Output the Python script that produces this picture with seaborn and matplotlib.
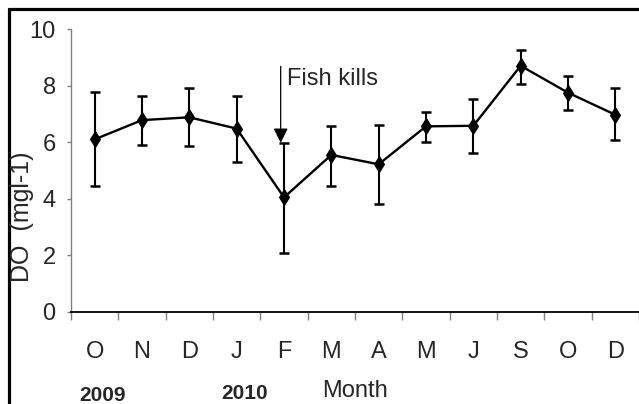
import matplotlib
matplotlib.use("Agg")
import matplotlib.pyplot as plt
from matplotlib.lines import Line2D
from matplotlib import font_manager
import numpy as np
import pandas as pd
import seaborn as sns

# Monthly dissolved oxygen, Oct 2009 - Dec 2010
months = ["O", "N", "D", "J", "F", "M", "A", "M", "J", "S", "O", "D"]
do_mean = [6.10, 6.78, 6.88, 6.48, 4.05, 5.55, 5.22, 6.56, 6.58, 8.70, 7.75, 6.97]
do_upper = [7.77, 7.63, 7.90, 7.63, 5.98, 6.58, 6.62, 7.08, 7.54, 9.25, 8.33, 7.90]
do_lower = [4.45, 5.90, 5.87, 5.30, 2.10, 4.46, 3.80, 6.00, 5.63, 8.07, 7.13, 6.08]
y_ticks = [0, 2, 4, 6, 8, 10]

sns.set_style("white")

installed = {f.name for f in font_manager.fontManager.ttflist}
narrow = "Liberation Sans Narrow" if "Liberation Sans Narrow" in installed else "Liberation Sans"
plt.rcParams["font.family"] = [narrow, "DejaVu Sans"]

W, H = 639, 404
fig = plt.figure(figsize=(W / 100, H / 100), dpi=100)
ax = fig.add_axes([71 / W, 1 - 312 / H, (639 - 71) / W, (312 - 29) / H])

df = pd.DataFrame({
    "pos": np.arange(len(months)),
    "mean": do_mean,
    "lower": do_lower,
    "upper": do_upper,
})

sns.lineplot(data=df, x="pos", y="mean", ax=ax, color="black", linewidth=1.7,
             marker="d", markersize=8.5, markeredgecolor="black",
             markerfacecolor="black", zorder=3)
ax.errorbar(df["pos"], df["mean"],
            yerr=[df["mean"] - df["lower"], df["upper"] - df["mean"]],
            fmt="none", ecolor="black", elinewidth=1.5, capsize=3.5,
            capthick=1.8, zorder=2)

# Axes limits and ticks
ax.set_xlim(-0.5, len(months) - 0.5)
ax.set_ylim(0, 10)
ax.set_yticks(y_ticks)
ax.set_yticklabels([str(v) for v in y_ticks], fontsize=17)
ax.set_xticks(np.arange(-0.5, len(months), 1.0))
ax.set_xticklabels([])
ax.set_xticks(np.arange(len(months)), minor=True)
ax.set_xticklabels(months, minor=True, fontsize=17)
ax.tick_params(axis="x", which="major", direction="out", length=6, width=1,
               color="#808080", bottom=True)
ax.tick_params(axis="x", which="minor", length=0, pad=21)
ax.tick_params(axis="y", direction="out", length=3, width=1, color="#808080",
               left=True, pad=8)
ax.set_xlabel("")
ax.set_ylabel("")

for side in ("top", "right"):
    ax.spines[side].set_visible(False)
ax.spines["bottom"].set_color("black")
ax.spines["bottom"].set_linewidth(1.3)
ax.spines["left"].set_color("#808080")
ax.spines["left"].set_linewidth(1.0)

# Fish kill event marker
ax.annotate("", xy=(3.93, 5.98), xytext=(3.93, 8.68),
            arrowprops=dict(arrowstyle="-|>", color="black", lw=0.9,
                            mutation_scale=22, shrinkA=0, shrinkB=0))
ax.text(4.06, 8.23, "Fish kills", fontsize=17, va="center", ha="left")

# Axis titles and year labels
fig.text(22 / W, 1 - 217 / H, "DO  (mgl-1)", rotation=90, ha="center",
         va="center", fontsize=18, family=["Liberation Sans", "DejaVu Sans"])
fig.text(103 / W, 1 - 386 / H, "2009", ha="center", va="top", fontsize=15,
         fontweight="bold")
fig.text(245 / W, 1 - 384 / H, "2010", ha="center", va="top", fontsize=15,
         fontweight="bold")
fig.text(322 / W, 1 - 380 / H, "Month", ha="left", va="top", fontsize=17)

# Frame drawn around the figure
fig.add_artist(Line2D([9 / W, 1.0], [1 - 9 / H, 1 - 9 / H], color="black",
                      lw=2.3, transform=fig.transFigure))
fig.add_artist(Line2D([9 / W, 9 / W], [0, 1 - 9 / H], color="black",
                      lw=2.3, transform=fig.transFigure))

fig.savefig("out.png", dpi=100)
